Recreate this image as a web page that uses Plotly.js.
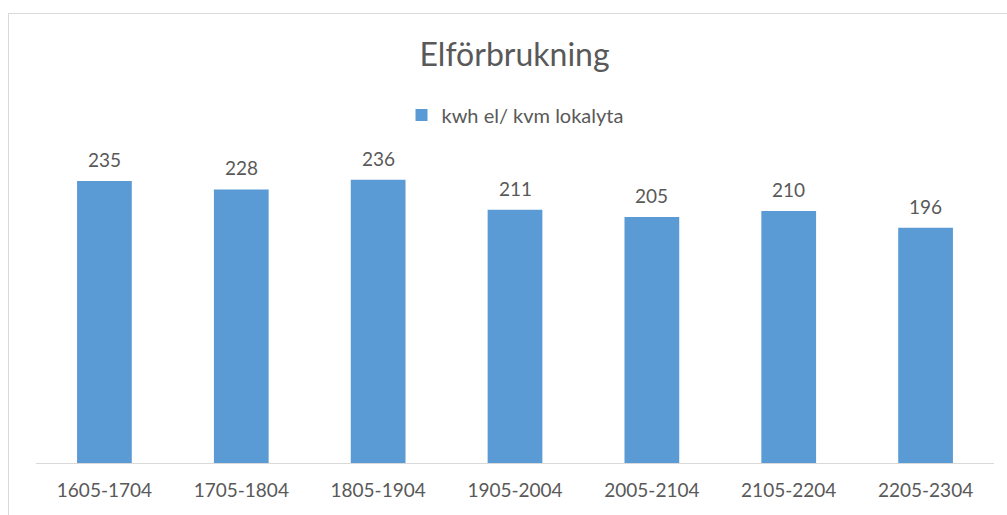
<!DOCTYPE html>
<html>
<head>
<meta charset="utf-8">
<script src="https://cdn.plot.ly/plotly-3.0.1.min.js"></script>
<style>
html,body{margin:0;padding:0;background:#fff;overflow:hidden;}
#chart{position:absolute;left:0;top:0;width:1007px;height:515px;}
#frame{position:absolute;left:8px;top:13px;width:1010px;height:520px;border:1px solid #D9D9D9;pointer-events:none;}
</style>
</head>
<body>
<div id="chart"></div>
<div id="frame"></div>
<script>
const categories = ["1605-1704","1705-1804","1805-1904","1905-2004","2005-2104","2105-2204","2205-2304"];
const values = [235, 228, 236, 211, 205, 210, 196];
const seriesName = "kwh el/ kvm lokalyta";
const chartTitle = "Elförbrukning";

const FONT = "Lato, 'Open Sans', sans-serif";
const TXT = "#595959";

const trace = {
  type: "bar",
  x: categories,
  y: values,
  name: seriesName,
  marker: {color: "#5B9BD5"},
  hoverinfo: "x+y"
};

const annotations = categories.map((c, i) => ({
  x: c, y: values[i], xref: "x", yref: "y",
  text: String(values[i]), showarrow: false,
  yanchor: "bottom", yshift: 8,
  font: {family: FONT, size: 19, color: TXT}
}));

const layout = {
  width: 1007, height: 515,
  paper_bgcolor: "#fff", plot_bgcolor: "#fff",
  margin: {l: 36, r: 13, t: 163, b: 52},
  bargap: 0.6,
  showlegend: true,
  title: {text: chartTitle, x: 0.511, xanchor: "center", y: 1 - 55/515, yanchor: "middle", yref: "container",
          font: {family: FONT, size: 32, color: TXT}},
  legend: {orientation: "h", x: 0.5, xanchor: "center", y: 1.16, yanchor: "middle", itemwidth: 30,
           font: {family: FONT, size: 20, color: TXT}, itemclick: false},
  xaxis: {type: "category", showline: true, linecolor: "#D9D9D9", linewidth: 1,
          ticks: "outside", ticklen: 10, tickcolor: "rgba(0,0,0,0)",
          tickfont: {family: FONT, size: 19, color: TXT}, showgrid: false, zeroline: false},
  yaxis: {range: [0, 250], visible: false, showgrid: false, zeroline: false},
  annotations: annotations
};

Plotly.newPlot("chart", [trace], layout, {displayModeBar: false, staticPlot: true});
</script>
</body>
</html>
